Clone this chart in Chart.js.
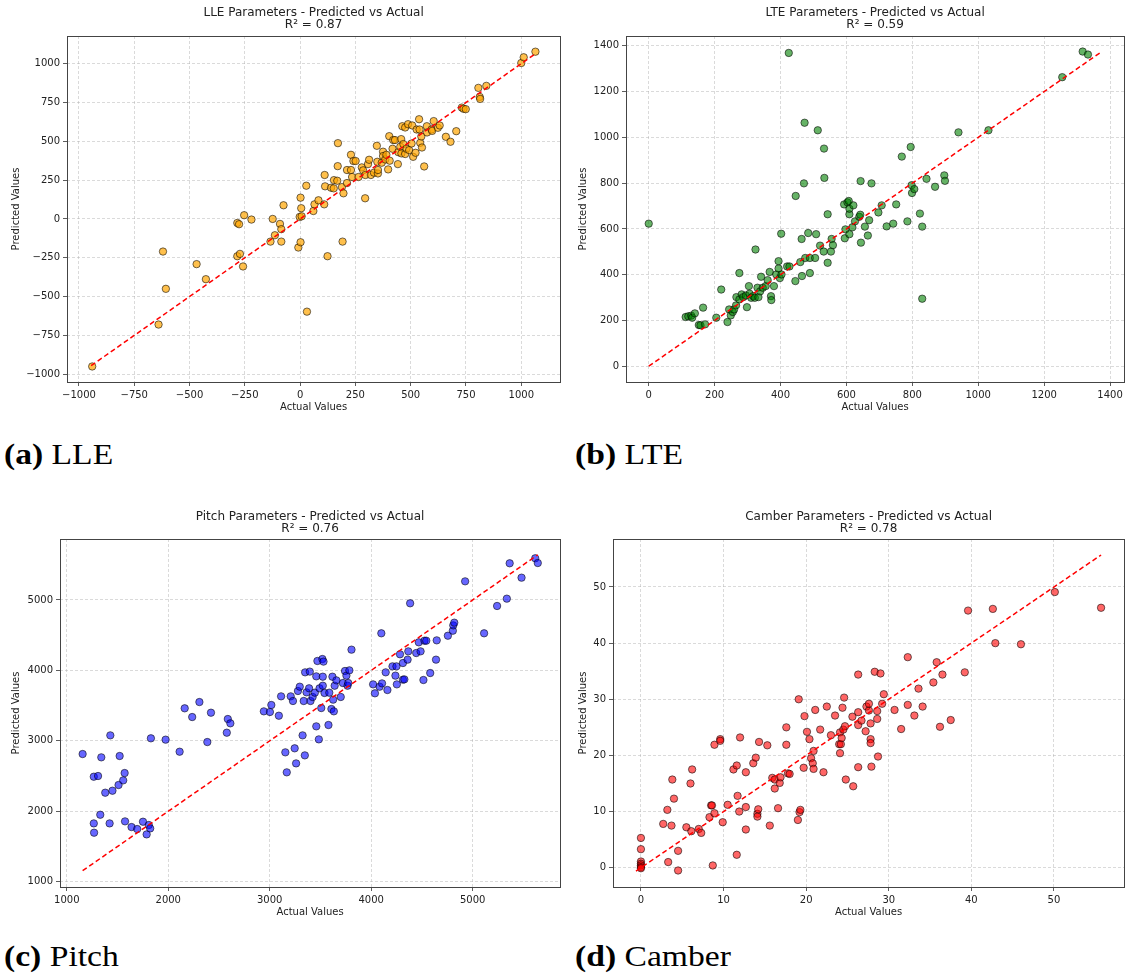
<!DOCTYPE html>
<html>
<head>
<meta charset="utf-8">
<title>Predicted vs Actual</title>
<script src="https://cdn.jsdelivr.net/npm/chart.js@4.4.1/dist/chart.umd.min.js"></script>
<style>
  body { margin: 0; background: #fff; width: 1129px; height: 973px; position: relative; overflow: hidden; }
  canvas { position: absolute; }
  .caption { position: absolute; font-family: "Liberation Serif", "DejaVu Serif", serif; font-size: 30px; line-height: 1; color: #000; white-space: nowrap; transform: scaleX(1.12); transform-origin: left top; }
  .caption b { font-weight: bold; }
</style>
</head>
<body>
<canvas id="chart-lle" width="565" height="419" style="left:0;top:0"></canvas>
<canvas id="chart-lte" width="564" height="419" style="left:565px;top:0"></canvas>
<canvas id="chart-pitch" width="565" height="424" style="left:0;top:500px"></canvas>
<canvas id="chart-camber" width="564" height="424" style="left:565px;top:500px"></canvas>
<div class="caption" style="left:4px;top:439px"><b>(a)</b> LLE</div>
<div class="caption" style="left:575px;top:439px"><b>(b)</b> LTE</div>
<div class="caption" style="left:4px;top:941px"><b>(c)</b> Pitch</div>
<div class="caption" style="left:575px;top:941px"><b>(d)</b> Camber</div>
<script>
// LLE
const lleActual = [-940,-640,-620,-607,-468,-426,-284,-272,-258,-284,-276,-253,-220,-134,-124,-114,-91,-85,-85,-75,
  -8,2,2,5,-2,7,28,31,60,65,83,109,113,111,124,140,152,153,168,170,171,189,196,192,212,212,230,230,235,241,
  251,264,279,285,294,295,307,312,320,334,347,349,352,352,369,375,375,385,390,398,403,405,418,421,429,442,444,453,457,458,
  462,467,475,475,481,488,493,504,507,511,522,527,538,540,543,548,551,561,573,574,594,597,604,623,631,659,680,706,731,739,
  749,806,812,814,842,1000,1011,1064];
const llePredicted = [-950,-680,-210,-450,-291,-388,-240,-225,-306,-26,-34,24,-4,-146,0,-105,-32,-66,-146,88,
  -184,-150,137,69,13,17,214,-597,51,94,120,94,210,283,-240,201,197,250,246,340,488,205,165,-146,231,315,315,413,270,373,
  373,270,332,313,133,283,353,381,283,298,471,368,293,315,362,433,405,383,413,319,533,375,452,508,508,353,430,465,514,422,
  597,482,418,589,452,610,443,486,602,400,426,576,642,576,490,531,460,338,597,557,576,567,630,587,602,529,497,565,717,709,
  707,844,786,773,857,1004,1041,1077];
const lleLine = [-945, 1068];
const lleTicks = [-1000,-750,-500,-250,0,250,500,750,1000];

// LTE
const lteActual = [0,112,120,129,132,140,152,157,165,171,205,220,239,244,249,255,259,265,266,275,
  275,282,287,295,298,304,306,311,317,322,324,330,333,338,341,346,355,361,367,371,
  372,380,387,394,394,398,402,403,420,425,427,446,445,460,464,465,471,473,475,484,
  489,489,505,508,513,520,531,532,533,543,543,553,555,559,595,597,593,603,607,609,
  609,609,621,618,626,639,642,643,644,656,665,669,676,697,707,722,742,751,768,785,
  795,798,799,806,823,830,830,843,869,897,899,940,1031,1255,1317,1333];
const ltePredicted = [623,215,218,221,212,231,180,179,256,183,212,335,193,248,222,237,248,266,302,407,
  292,314,302,309,258,350,317,299,306,299,510,343,302,327,391,343,350,376,412,306,
  289,350,401,459,427,385,579,401,436,1369,436,744,372,455,556,394,799,1064,473,582,
  473,407,473,577,1031,527,501,951,823,664,452,501,556,529,559,598,707,716,722,664,
  577,688,703,607,633,653,662,809,540,610,571,638,799,672,703,611,623,707,916,633,
  958,791,757,774,667,610,295,819,784,834,810,1022,1031,1263,1375,1362];
const lteLine = [0, 1375];
const lteTicks = [0,200,400,600,800,1000,1200,1400];

// Pitch
const pitchActual = [1156,1266,1308,1266,1269,1330,1340,1379,1429,1422,1450,1510,1521,1556,1570,1574,1638,1694,1751,1787,
  1808,1822,1829,1974,2112,2162,2236,2307,2385,2421,2577,2587,2612,2942,3002,3016,3090,3112,3154,3168,
  3207,3229,3246,3260,3278,3296,3324,3335,3346,3349,3363,3388,3395,3402,3423,3445,3459,3459,3470,3484,
  3491,3508,3519,3523,3530,3523,3540,3579,3587,3608,3618,3625,3632,3640,3657,3700,3721,3742,3756,3767,
  3785,3774,3806,4019,4037,4083,4100,4107,4143,4160,4210,4239,4249,4253,4284,4313,4313,4327,4359,4366,
  4384,4444,4469,4487,4515,4525,4543,4582,4639,4646,4756,4805,4809,4819,4926,5113,5241,5337,5365,5482,
  5617,5642];
const pitchPredicted = [2813,2491,2501,1828,1696,1951,2766,2264,3078,1828,2292,2373,2785,2439,2543,1857,1776,1748,1852,1672,
  1805,1757,3036,3017,2846,3462,3338,3551,2983,3400,3116,3310,3249,3419,3410,3509,3357,3632,2837,2553,
  3632,3566,2894,2680,3708,3769,3078,3566,2794,3973,3689,3746,3983,3566,3623,3684,3916,3206,4134,3021,
  3746,3466,4162,3911,4125,3783,3680,3225,3684,3452,3911,3585,3419,3783,3859,3623,3821,3992,3926,3783,
  4001,3821,4295,3802,3675,3769,4527,3816,3973,3722,4058,3926,4058,3802,4229,3869,4105,3873,4153,4271,
  4953,4247,4399,4271,3864,4422,4422,3963,4153,4427,4493,4564,4640,4678,5265,4527,4915,5019,5521,5317,
  5592,5525];
const pitchLine = [1156, 5642];
const pitchTicks = [1000,2000,3000,4000,5000];

// Camber
const camberActual = [0,0,0,0,0,0,0,2.7,3.2,3.3,3.7,3.8,4.0,4.5,4.5,5.5,6.0,6.1,6.2,7.0,
  7.3,8.3,8.5,8.6,8.7,8.9,8.9,9.6,9.6,9.9,10.5,11.2,11.6,11.6,11.7,11.9,12.0,12.7,12.7,12.7,
  13.6,13.9,14.1,14.1,14.2,14.3,15.3,15.6,15.9,16.2,16.2,16.6,16.8,16.9,17.6,17.6,17.8,18.0,19.0,19.1,
  19.2,19.3,19.7,19.8,20.1,20.4,20.6,20.8,20.9,20.9,21.1,21.7,22.1,22.5,23.0,23.5,24.0,24.1,24.1,24.2,
  24.3,24.4,24.5,24.6,24.7,24.8,25.6,25.7,26.3,26.3,26.3,26.3,26.7,27.2,27.3,27.6,27.6,27.8,27.8,27.8,
  27.9,28.3,28.6,28.6,28.7,29.0,29.2,29.4,30.7,31.5,32.3,32.3,33.1,33.6,34.1,35.4,35.8,36.2,36.5,37.5,
  39.2,39.6,42.6,42.9,46.0,50.1,55.7];
const camberPredicted = [5.3,3.3,1.1,0.7,0.4,0.1,-0.1,7.8,10.3,1.0,7.5,15.7,12.3,-0.5,3.0,7.2,15.0,6.5,17.5,6.9,
  6.2,9.0,11.1,11.1,0.4,9.7,21.9,22.9,22.6,8.1,11.2,17.5,2.3,18.2,12.8,10.0,23.2,17.0,6.8,10.8,
  18.6,19.6,9.6,9.1,10.4,22.4,21.8,7.5,16.0,15.7,14.1,10.6,15.1,16.1,25.0,21.9,16.8,16.7,8.5,30.0,
  9.9,10.3,17.8,27.0,24.2,22.9,19.5,18.6,17.6,20.8,28.1,24.6,17.0,28.7,23.6,27.1,22.0,24.1,20.4,22.0,
  23.1,28.5,24.6,30.3,25.2,15.7,26.9,14.5,34.4,27.7,17.9,25.4,26.2,24.3,28.7,28.0,29.2,25.7,22.9,22.2,
  18.0,34.9,27.9,26.5,19.8,34.6,29.2,30.9,28.1,24.7,37.5,29.0,27.1,31.9,28.7,33.0,36.6,25.1,34.4,26.3,
  34.8,45.8,46.1,40.0,39.8,49.1,46.3];
const camberLine = [-0.6, 55.7];
const camberTicks = [0,10,20,30,40,50];

Chart.defaults.font.family = "'DejaVu Sans', sans-serif";
Chart.defaults.color = "#222";

// matplotlib draws a full box around the axes
const axesFrame = {
    id: "axesFrame",
    afterDraw(chart) {
        const { ctx, chartArea: a } = chart;
        ctx.save();
        ctx.strokeStyle = "#444";
        ctx.lineWidth = 1;
        ctx.strokeRect(Math.round(a.left) + 0.5, Math.round(a.top) + 0.5,
            Math.round(a.right - a.left), Math.round(a.bottom - a.top));
        ctx.restore();
    },
};

const minusFmt = (v) => (v < 0 ? "\u2212" + Math.abs(v) : String(v));

function axisOpts(range, ticks, label, fit, titlePad) {
    return {
        type: "linear",
        min: range[0],
        max: range[1],
        afterBuildTicks: (s) => { s.ticks = ticks.map((v) => ({ value: v })); },
        afterFit: fit,
        ticks: { autoSkip: false, maxRotation: 0, padding: 3, color: "#222", font: { size: 10 }, callback: minusFmt },
        grid: { color: "rgba(170,170,170,0.55)", lineWidth: 0.8, tickLength: 4, tickColor: "#333", tickWidth: 0.8 },
        border: { display: false, dash: [3, 2] },
        title: { display: true, text: label, color: "#222", font: { size: 10 }, padding: titlePad },
    };
}

function makePanel(id, p) {
    const canvas = document.getElementById(id);
    if (!canvas) {
        return;
    }
    return new Chart(canvas, {
        type: "scatter",
        data: {
            datasets: [
                {
                    data: [{ x: p.line[0], y: p.line[0] }, { x: p.line[1], y: p.line[1] }],
                    showLine: true,
                    borderColor: "#ff0000",
                    borderWidth: 1.5,
                    borderDash: [5, 3],
                    pointRadius: 0,
                    order: 0,
                },
                {
                    data: p.actual.map((v, i) => ({ x: v, y: p.predicted[i] })),
                    backgroundColor: p.fill,
                    borderColor: "rgba(0,0,0,0.7)",
                    borderWidth: 0.8,
                    pointRadius: 3.7,
                    order: 1,
                },
            ],
        },
        options: {
            responsive: false,
            animation: false,
            layout: { padding: { left: 0, right: p.padRight, top: 0, bottom: 0 } },
            scales: {
                x: axisOpts(p.xRange, p.ticks, "Actual Values", (s) => { s.height = 37; }, { top: 0, bottom: 6 }),
                y: axisOpts(p.yRange, p.ticks, "Predicted Values", (s) => { s.width = p.yWidth; }, { top: p.yTitlePad, bottom: 0 }),
            },
            plugins: {
                legend: { display: false },
                tooltip: { enabled: false },
                title: {
                    display: true,
                    fullSize: false,
                    text: p.title,
                    color: "#222",
                    font: { size: 12, weight: "normal", lineHeight: 1 },
                    padding: { top: p.titleTop, bottom: p.titleBottom },
                },
            },
        },
        plugins: [axesFrame],
    });
}

makePanel("chart-lle", {
    title: ["LLE Parameters - Predicted vs Actual", "R\u00b2 = 0.87"],
    actual: lleActual, predicted: llePredicted, line: lleLine, ticks: lleTicks,
    xRange: [-1054, 1176], yRange: [-1050, 1178],
    fill: "rgba(255,165,0,0.7)",
    yWidth: 67, padRight: 4, yTitlePad: 10, titleTop: 7, titleBottom: 5,
});

makePanel("chart-lte", {
    title: ["LTE Parameters - Predicted vs Actual", "R\u00b2 = 0.59"],
    actual: lteActual, predicted: ltePredicted, line: lteLine, ticks: lteTicks,
    xRange: [-69, 1443], yRange: [-69, 1443],
    fill: "rgba(0,128,0,0.6)",
    yWidth: 61, padRight: 2, yTitlePad: 12, titleTop: 7, titleBottom: 5,
});

makePanel("chart-pitch", {
    title: ["Pitch Parameters - Predicted vs Actual", "R\u00b2 = 0.76"],
    actual: pitchActual, predicted: pitchPredicted, line: pitchLine, ticks: pitchTicks,
    xRange: [933, 5863], yRange: [925, 5866],
    fill: "rgba(0,0,255,0.6)",
    yWidth: 60, padRight: 4, yTitlePad: 10, titleTop: 11, titleBottom: 4,
});

makePanel("chart-camber", {
    title: ["Camber Parameters - Predicted vs Actual", "R\u00b2 = 0.78"],
    actual: camberActual, predicted: camberPredicted, line: camberLine, ticks: camberTicks,
    xRange: [-3.38, 58.5], yRange: [-3.44, 58.55],
    fill: "rgba(255,0,0,0.6)",
    yWidth: 48, padRight: 2, yTitlePad: 12, titleTop: 11, titleBottom: 4,
});
</script>
</body>
</html>
